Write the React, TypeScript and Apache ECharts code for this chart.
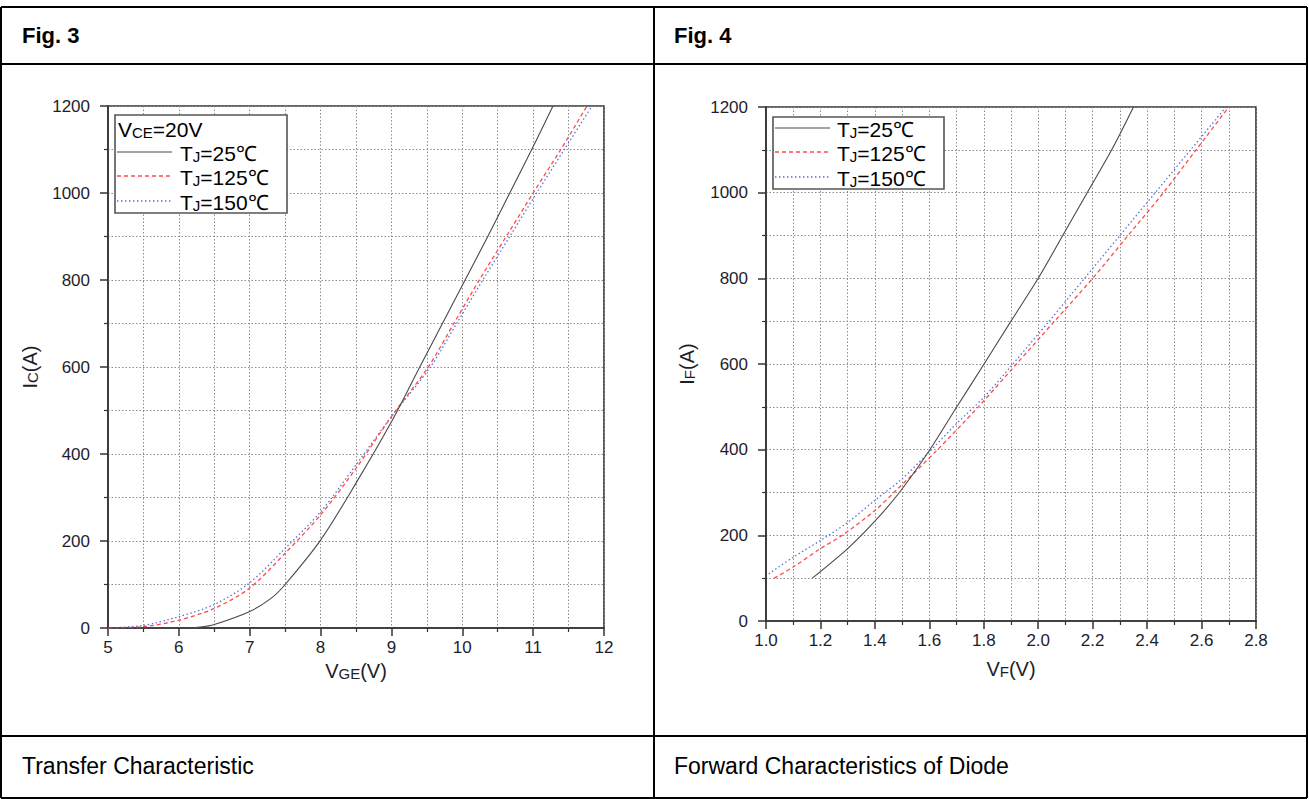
import React, { useEffect, useRef } from "react";
import * as echarts from "echarts";

// ---- Fig. 3 Transfer characteristic: VGE (V) vs IC (A)
const transferVge25 = [5.0, 5.6, 6.1, 6.3, 6.5, 7.0, 7.3, 7.5, 8.0, 8.5, 9.0, 9.4, 9.72, 10.04, 10.36, 10.67, 10.98, 11.28];
const transferIc25 = [0, 0, 0, 2, 8, 38, 68, 100, 202, 333, 474, 600, 700, 800, 900, 1000, 1100, 1200];
const transferVge125 = [5.0, 5.5, 6.0, 6.5, 7.0, 7.5, 8.0, 8.5, 9.0, 9.52, 9.88, 10.24, 10.62, 11.0, 11.39, 11.76];
const transferIc125 = [0, 3, 18, 45, 92, 172, 260, 367, 486, 600, 700, 800, 900, 1000, 1100, 1200];
const transferVge150 = [5.0, 5.5, 6.0, 6.5, 7.0, 7.5, 8.0, 8.5, 9.0, 9.55, 9.92, 10.29, 10.67, 11.05, 11.44, 11.83];
const transferIc150 = [0, 6, 26, 54, 104, 183, 267, 375, 486, 600, 700, 800, 900, 1000, 1100, 1200];

// ---- Fig. 4 Diode forward characteristic: VF (V) vs IF (A)
const diodeVf25 = [1.17, 1.30, 1.40, 1.49, 1.60, 1.70, 1.80, 1.90, 2.00, 2.09, 2.18, 2.27, 2.35];
const diodeIf25 = [100, 169, 233, 300, 398, 499, 599, 700, 800, 900, 1000, 1100, 1200];
const diodeVf125 = [1.03, 1.10, 1.20, 1.28, 1.40, 1.47, 1.63, 1.78, 1.92, 2.06, 2.20, 2.33, 2.46, 2.58, 2.70];
const diodeIf125 = [100, 126, 169, 200, 258, 300, 400, 500, 600, 700, 800, 900, 1000, 1100, 1200];
const diodeVf150 = [1.01, 1.10, 1.20, 1.30, 1.40, 1.50, 1.60, 1.70, 1.80, 1.90, 2.04, 2.17, 2.30, 2.43, 2.56, 2.69];
const diodeIf150 = [110, 149, 188, 230, 282, 332, 395, 461, 522, 595, 700, 800, 900, 1000, 1100, 1200];

const seriesNames = ["TJ=25℃", "TJ=125℃", "TJ=150℃"];
const legendLabels = ["{b|T}{s|J}{b|=25℃}", "{b|T}{s|J}{b|=125℃}", "{b|T}{s|J}{b|=150℃}"];
const headerLabel = "{b|V}{s|CE}{b|=20V}";
const figTitles = ["Fig. 3", "Fig. 4"];
const captions = ["Transfer Characteristic", "Forward Characteristics of Diode"];

const FONT = "'Liberation Sans', Arial, sans-serif";
const zip = (xs: number[], ys: number[]) => xs.map((x, i) => [x, ys[i]]);

const lineStyles = [
  { color: "#4a4a4a", width: 1.1, type: "solid" as const },
  { color: "#ff4a4a", width: 1.3, type: [4, 3] as any },
  { color: "#5a72d6", width: 1.3, type: [1.5, 2.5] as any },
];

const gridLine = { show: true, lineStyle: { color: "#8c8c8c", width: 1, type: [1.5, 2] as any } };

function makeXAxis(gridIndex: number, min: number, max: number, interval: number, decimals: number, nameRich: string, nameGap: number) {
  return {
    type: "value",
    gridIndex,
    min,
    max,
    interval,
    axisLine: { show: true, onZero: false, lineStyle: { color: "#333", width: 1.6 } },
    axisTick: { show: true, length: 8, lineStyle: { color: "#333", width: 1.5 } },
    minorTick: { show: true, splitNumber: 2, length: 4, lineStyle: { color: "#333", width: 1.2 } },
    splitLine: gridLine,
    minorSplitLine: gridLine,
    axisLabel: {
      fontSize: 17,
      color: "#1e1e2a",
      fontFamily: FONT,
      margin: 11,
      formatter: (v: number) => v.toFixed(decimals),
    },
    name: nameRich,
    nameLocation: "middle",
    nameGap,
    nameTextStyle: {
      fontFamily: FONT,
      color: "#1e1e2a",
      rich: {
        b: { fontSize: 20, fontFamily: FONT, color: "#1e1e2a", lineHeight: 22, verticalAlign: "bottom" },
        s: { fontSize: 15, fontFamily: FONT, color: "#1e1e2a", lineHeight: 22, verticalAlign: "bottom" },
      },
    },
  };
}

function makeYAxis(gridIndex: number, nameRich: string, nameGap: number, labelMargin: number) {
  return {
    type: "value",
    gridIndex,
    min: 0,
    max: 1200,
    interval: 200,
    axisLine: { show: true, onZero: false, lineStyle: { color: "#333", width: 1.6 } },
    axisTick: { show: true, length: 8, lineStyle: { color: "#333", width: 1.5 } },
    minorTick: { show: true, splitNumber: 2, length: 4, lineStyle: { color: "#333", width: 1.2 } },
    splitLine: gridLine,
    minorSplitLine: gridLine,
    axisLabel: {
      fontSize: 17,
      color: "#1e1e2a",
      fontFamily: FONT,
      margin: labelMargin,
      formatter: (v: number) => String(v),
    },
    name: nameRich,
    nameLocation: "middle",
    nameGap,
    nameRotate: 90,
    nameTextStyle: {
      fontFamily: FONT,
      color: "#1e1e2a",
      rich: {
        b: { fontSize: 20, fontFamily: FONT, color: "#1e1e2a", lineHeight: 22, verticalAlign: "bottom" },
        s: { fontSize: 15, fontFamily: FONT, color: "#1e1e2a", lineHeight: 22, verticalAlign: "bottom" },
      },
    },
  };
}

const richLegend = {
  b: { fontSize: 21, fontFamily: FONT, color: "#111", lineHeight: 24, verticalAlign: "bottom" },
  s: { fontSize: 15, fontFamily: FONT, color: "#111", lineHeight: 24, verticalAlign: "bottom" },
};

function legendGraphics(box: { x: number; y: number; w: number; h: number }, rowsY: number[], lineX: [number, number], textX: number, header?: { x: number; y: number }) {
  const els: any[] = [
    {
      type: "rect",
      z: 100,
      shape: { x: box.x, y: box.y, width: box.w, height: box.h },
      style: { fill: "#fff", stroke: "#555", lineWidth: 1.6 },
    },
  ];
  if (header) {
    els.push({
      type: "text",
      z: 101,
      x: header.x,
      y: header.y,
      style: { text: headerLabel, rich: richLegend, verticalAlign: "middle", align: "left" },
    });
  }
  rowsY.forEach((y, i) => {
    const ls = lineStyles[i];
    els.push({
      type: "line",
      z: 101,
      shape: { x1: lineX[0], y1: y, x2: lineX[1], y2: y },
      style: { stroke: ls.color, lineWidth: ls.width, lineDash: ls.type === "solid" ? null : ls.type },
    });
    els.push({
      type: "text",
      z: 101,
      x: textX,
      y: y,
      style: { text: legendLabels[i], rich: richLegend, verticalAlign: "middle", align: "left" },
    });
  });
  return els;
}

function tableGraphics() {
  const stroke = "#000";
  const lw = 2;
  const L = (x1: number, y1: number, x2: number, y2: number) => ({
    type: "line",
    z: 50,
    shape: { x1, y1, x2, y2 },
    style: { stroke, lineWidth: lw },
  });
  const els: any[] = [
    L(1, 7, 1307, 7),
    L(1, 64, 1307, 64),
    L(1, 736, 1307, 736),
    L(1, 798, 1307, 798),
    L(1, 7, 1, 798),
    L(654, 7, 654, 798),
    L(1307, 7, 1307, 798),
  ];
  const colX = [22, 674];
  figTitles.forEach((t, i) => {
    els.push({
      type: "text",
      z: 51,
      x: colX[i],
      y: 35,
      style: { text: t, fontFamily: FONT, fontWeight: "bold", fontSize: 22, fill: "#000", verticalAlign: "middle" },
    });
  });
  captions.forEach((t, i) => {
    els.push({
      type: "text",
      z: 51,
      x: colX[i],
      y: 766,
      style: { text: t, fontFamily: FONT, fontSize: 23, fill: "#000", verticalAlign: "middle" },
    });
  });
  return els;
}

export default function App() {
  const ref = useRef<HTMLDivElement>(null);
  useEffect(() => {
    if (!ref.current) return;
    const chart = echarts.init(ref.current, null, { renderer: "svg" });
    const transferData = [
      zip(transferVge25, transferIc25),
      zip(transferVge125, transferIc125),
      zip(transferVge150, transferIc150),
    ];
    const diodeData = [
      zip(diodeVf25, diodeIf25),
      zip(diodeVf125, diodeIf125),
      zip(diodeVf150, diodeIf150),
    ];
    const series: any[] = [];
    transferData.forEach((d, i) =>
      series.push({
        type: "line",
        name: seriesNames[i],
        xAxisIndex: 0,
        yAxisIndex: 0,
        data: d,
        smooth: 0.3,
        showSymbol: false,
        symbol: "none",
        lineStyle: lineStyles[i],
        z: 5 - i,
      })
    );
    diodeData.forEach((d, i) =>
      series.push({
        type: "line",
        name: seriesNames[i],
        xAxisIndex: 1,
        yAxisIndex: 1,
        data: d,
        smooth: 0.3,
        showSymbol: false,
        symbol: "none",
        lineStyle: lineStyles[i],
        z: 5 - i,
      })
    );
    chart.setOption({
      animation: false,
      backgroundColor: "#fff",
      textStyle: { fontFamily: FONT },
      grid: [
        { left: 108, top: 106, width: 496, height: 522, show: true, borderColor: "#333", borderWidth: 1.6, containLabel: false },
        { left: 766, top: 107, width: 490, height: 514, show: true, borderColor: "#333", borderWidth: 1.6, containLabel: false },
      ],
      xAxis: [
        makeXAxis(0, 5, 12, 1, 0, "{b|V}{s|GE}{b|(V)}", 31),
        makeXAxis(1, 1.0, 2.8, 0.2, 1, "{b|V}{s|F}{b|(V)}", 36),
      ],
      yAxis: [
        makeYAxis(0, "{b|I}{s|C}{b|(A)}", 68, 18),
        makeYAxis(1, "{b|I}{s|F}{b|(A)}", 69, 18),
      ],
      series,
      graphic: [
        ...tableGraphics(),
        ...legendGraphics({ x: 115, y: 115, w: 172, h: 98 }, [152, 176, 201], [117, 172], 180, { x: 118, y: 128 }),
        ...legendGraphics({ x: 773, y: 117, w: 171, h: 72 }, [128, 152, 177], [775, 830], 837),
      ],
    });
    return () => chart.dispose();
  }, []);
  return (
    <div
      ref={ref}
      style={{ position: "fixed", left: 0, top: 0, width: 1309, height: 799, background: "#fff" }}
    />
  );
}
